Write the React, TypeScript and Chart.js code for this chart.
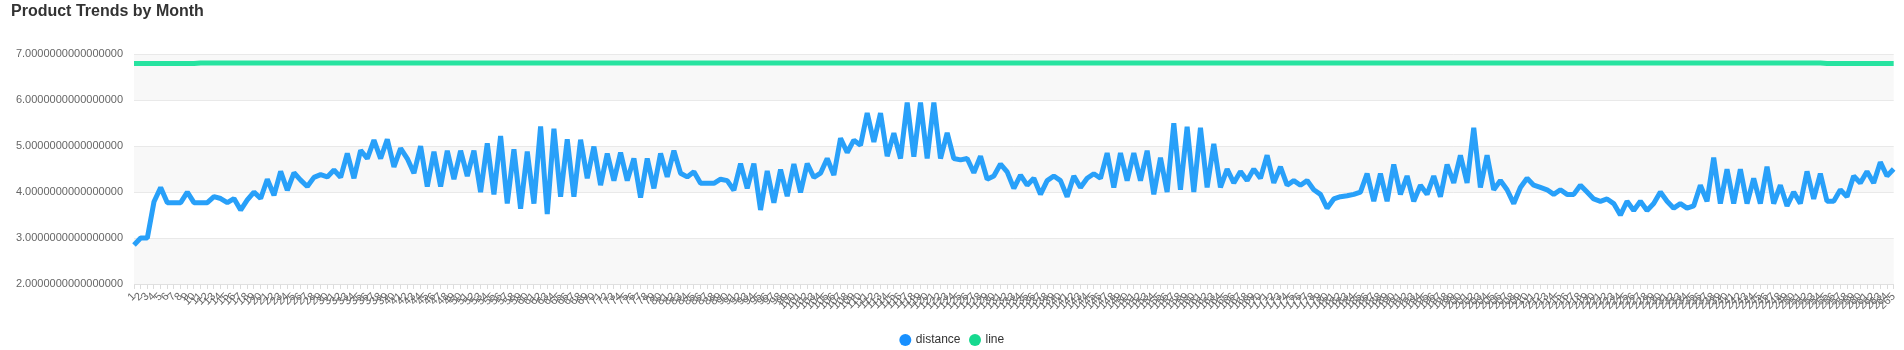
import React, { useEffect, useRef } from "react";
import { Chart, registerables } from "chart.js";

Chart.register(...registerables);

const FONT = "'Liberation Sans', Arial, Helvetica, sans-serif";

const chartTitle = "Product Trends by Month";
const seriesNames = ["distance", "line"];
const lineColors = ["#28a0f9", "#27e3a0"];
const legendColors = ["#1890ff", "#16d98f"];
const yTicks = [2, 3, 4, 5, 6, 7];

const distance = [
  2.85, 3.0, 3.0, 3.79, 4.1, 3.77, 3.77, 3.77, 4.0, 3.77,
  3.77, 3.77, 3.9, 3.86, 3.77, 3.86, 3.61, 3.83, 4.0, 3.86,
  4.28, 3.93, 4.45, 4.04, 4.42, 4.26, 4.12, 4.32, 4.38, 4.33,
  4.48, 4.32, 4.84, 4.3, 4.91, 4.73, 5.13, 4.73, 5.15, 4.55,
  4.95, 4.73, 4.41, 5.0, 4.12, 4.88, 4.12, 4.9, 4.28, 4.9,
  4.35, 4.9, 4.0, 5.06, 3.95, 5.22, 3.75, 4.93, 3.64, 4.88,
  3.75, 5.43, 3.52, 5.38, 3.9, 5.15, 3.9, 5.14, 4.3, 4.99,
  4.15, 4.84, 4.25, 4.86, 4.25, 4.73, 3.88, 4.73, 4.08, 4.84,
  4.33, 4.9, 4.41, 4.33, 4.44, 4.19, 4.19, 4.19, 4.28, 4.25,
  4.04, 4.62, 4.08, 4.62, 3.61, 4.46, 3.77, 4.49, 3.91, 4.61,
  3.99, 4.62, 4.32, 4.41, 4.73, 4.37, 5.17, 4.86, 5.13, 5.02,
  5.72, 5.09, 5.72, 4.78, 5.28, 4.73, 5.95, 4.77, 5.95, 4.73,
  5.95, 4.73, 5.29, 4.73, 4.7, 4.73, 4.42, 4.78, 4.28, 4.35,
  4.61, 4.44, 4.08, 4.37, 4.15, 4.3, 3.95, 4.25, 4.35, 4.25,
  3.9, 4.35, 4.1, 4.3, 4.4, 4.3, 4.85, 4.1, 4.85, 4.25,
  4.85, 4.25, 4.9, 3.95, 4.75, 4.0, 5.5, 4.05, 5.42, 4.0,
  5.4, 4.1, 5.05, 4.1, 4.5, 4.2, 4.45, 4.25, 4.5, 4.3,
  4.8, 4.2, 4.55, 4.15, 4.25, 4.15, 4.25, 4.05, 3.95, 3.65,
  3.85, 3.9, 3.92, 3.95, 4.0, 4.4, 3.8, 4.4, 3.8, 4.6,
  3.95, 4.35, 3.8, 4.15, 3.95, 4.35, 3.9, 4.6, 4.2, 4.8,
  4.2, 5.4, 4.1, 4.8, 4.05, 4.25, 4.05, 3.75, 4.1, 4.3,
  4.15, 4.1, 4.05, 3.95, 4.05, 3.95, 3.95, 4.15, 4.0, 3.85,
  3.8, 3.85, 3.75, 3.5, 3.8, 3.6, 3.8, 3.6, 3.75, 4.0,
  3.8, 3.65, 3.75, 3.65, 3.7, 4.15, 3.8, 4.75, 3.75, 4.5,
  3.75, 4.5, 3.75, 4.3, 3.75, 4.55, 3.75, 4.15, 3.7, 4.0,
  3.75, 4.45, 3.85, 4.4, 3.8, 3.8, 4.05, 3.9, 4.35, 4.2,
  4.45, 4.2, 4.65, 4.35, 4.5,
];

const line = [
  6.8, 6.8, 6.8, 6.8, 6.8, 6.8, 6.8, 6.8, 6.8, 6.8,
  6.81, 6.81, 6.81, 6.81, 6.81, 6.81, 6.81, 6.81, 6.81, 6.81,
  6.81, 6.81, 6.81, 6.81, 6.81, 6.81, 6.81, 6.81, 6.81, 6.81,
  6.81, 6.81, 6.81, 6.81, 6.81, 6.81, 6.81, 6.81, 6.81, 6.81,
  6.81, 6.81, 6.81, 6.81, 6.81, 6.81, 6.81, 6.81, 6.81, 6.81,
  6.81, 6.81, 6.81, 6.81, 6.81, 6.81, 6.81, 6.81, 6.81, 6.81,
  6.81, 6.81, 6.81, 6.81, 6.81, 6.81, 6.81, 6.81, 6.81, 6.81,
  6.81, 6.81, 6.81, 6.81, 6.81, 6.81, 6.81, 6.81, 6.81, 6.81,
  6.81, 6.81, 6.81, 6.81, 6.81, 6.81, 6.81, 6.81, 6.81, 6.81,
  6.81, 6.81, 6.81, 6.81, 6.81, 6.81, 6.81, 6.81, 6.81, 6.81,
  6.81, 6.81, 6.81, 6.81, 6.81, 6.81, 6.81, 6.81, 6.81, 6.81,
  6.81, 6.81, 6.81, 6.81, 6.81, 6.81, 6.81, 6.81, 6.81, 6.81,
  6.81, 6.81, 6.81, 6.81, 6.81, 6.81, 6.81, 6.81, 6.81, 6.81,
  6.81, 6.81, 6.81, 6.81, 6.81, 6.81, 6.81, 6.81, 6.81, 6.81,
  6.81, 6.81, 6.81, 6.81, 6.81, 6.81, 6.81, 6.81, 6.81, 6.81,
  6.81, 6.81, 6.81, 6.81, 6.81, 6.81, 6.81, 6.81, 6.81, 6.81,
  6.81, 6.81, 6.81, 6.81, 6.81, 6.81, 6.81, 6.81, 6.81, 6.81,
  6.81, 6.81, 6.81, 6.81, 6.81, 6.81, 6.81, 6.81, 6.81, 6.81,
  6.81, 6.81, 6.81, 6.81, 6.81, 6.81, 6.81, 6.81, 6.81, 6.81,
  6.81, 6.81, 6.81, 6.81, 6.81, 6.81, 6.81, 6.81, 6.81, 6.81,
  6.81, 6.81, 6.81, 6.81, 6.81, 6.81, 6.81, 6.81, 6.81, 6.81,
  6.81, 6.81, 6.81, 6.81, 6.81, 6.81, 6.81, 6.81, 6.81, 6.81,
  6.81, 6.81, 6.81, 6.81, 6.81, 6.81, 6.81, 6.81, 6.81, 6.81,
  6.81, 6.81, 6.81, 6.81, 6.81, 6.81, 6.81, 6.81, 6.81, 6.81,
  6.81, 6.81, 6.81, 6.81, 6.81, 6.81, 6.81, 6.81, 6.81, 6.81,
  6.81, 6.81, 6.81, 6.81, 6.8, 6.8, 6.8, 6.8, 6.8, 6.8,
  6.8, 6.8, 6.8, 6.8, 6.8,
];

const labels = distance.map((_, i) => String(i + 1));

const bandPlugin = {
  id: "splitBands",
  beforeDraw(chart: any) {
    const { ctx, chartArea, scales } = chart;
    const y = scales.y;
    ctx.save();
    ctx.fillStyle = "#ffffff";
    ctx.fillRect(0, 0, chart.width, chart.height);
    for (let i = 0; i < yTicks.length - 1; i++) {
      const lo = yTicks[i];
      const hi = yTicks[i + 1];
      ctx.fillStyle = i % 2 === 0 ? "#f8f8f8" : "#ffffff";
      const top = y.getPixelForValue(hi);
      const bottom = y.getPixelForValue(lo);
      ctx.fillRect(chartArea.left, top, chartArea.right - chartArea.left, bottom - top);
    }
    ctx.restore();
  },
};

export default function App() {
  const canvasRef = useRef<HTMLCanvasElement | null>(null);

  useEffect(() => {
    document.body.style.margin = "0";
    const canvas = canvasRef.current;
    if (!canvas) return;
    const chart = new Chart(canvas, {
      type: "line",
      data: {
        labels,
        datasets: [
          {
            label: seriesNames[0],
            data: distance,
            borderColor: lineColors[0],
            backgroundColor: legendColors[0],
            borderWidth: 5,
            borderJoinStyle: "bevel",
            pointRadius: 0,
            pointHoverRadius: 0,
            tension: 0,
            fill: false,
          },
          {
            label: seriesNames[1],
            data: line,
            borderColor: lineColors[1],
            backgroundColor: legendColors[1],
            borderWidth: 5,
            borderJoinStyle: "bevel",
            pointRadius: 0,
            pointHoverRadius: 0,
            tension: 0,
            fill: false,
          },
        ],
      },
      options: {
        animation: false,
        responsive: true,
        maintainAspectRatio: false,
        font: { family: FONT },
        layout: { padding: { left: 11, right: 10, top: 0, bottom: -6 } },
        plugins: {
          title: {
            display: true,
            text: chartTitle,
            align: "start",
            color: "#333333",
            font: { family: FONT, size: 16, weight: "bold" },
            padding: { top: 2, bottom: 33 },
          },
          legend: {
            position: "bottom",
            labels: {
              usePointStyle: true,
              pointStyle: "circle",
              boxWidth: 9,
              boxHeight: 8.5,
              padding: 10,
              color: "#333333",
              font: { family: FONT, size: 12 },
              generateLabels: (chart: any) =>
                Chart.defaults.plugins.legend.labels
                  .generateLabels(chart)
                  .map((item: any, i: number) => ({
                    ...item,
                    fillStyle: legendColors[i],
                    strokeStyle: legendColors[i],
                    lineWidth: 0,
                  })),
            },
          },
          tooltip: { enabled: false },
        },
        scales: {
          x: {
            type: "category",
            offset: false,
            grid: {
              drawOnChartArea: false,
              drawTicks: true,
              tickLength: 5,
              color: "#dcdcdc",
            },
            border: { display: true, color: "#e0e0e0", width: 1 },
            ticks: {
              autoSkip: false,
              maxRotation: 45,
              minRotation: 45,
              padding: 1,
              color: "#666666",
              font: { family: FONT, size: 11 },
            },
            afterFit: (scale: any) => {
              scale.height = 40;
            },
          },
          y: {
            min: 2,
            max: 7,
            ticks: {
              stepSize: 1,
              padding: 11,
              color: "#666666",
              font: { family: FONT, size: 11 },
              callback: (v: any) => Number(v).toFixed(16),
            },
            grid: { color: "#e9e9e9", lineWidth: 1, drawTicks: false },
            border: { display: false },
            afterFit: (scale: any) => {
              scale.width = 123;
            },
          },
        },
      },
      plugins: [bandPlugin],
    });
    return () => chart.destroy();
  }, []);

  return (
    <div style={{ position: "relative", width: "1904px", height: "350px" }}>
      <canvas ref={canvasRef} />
    </div>
  );
}
